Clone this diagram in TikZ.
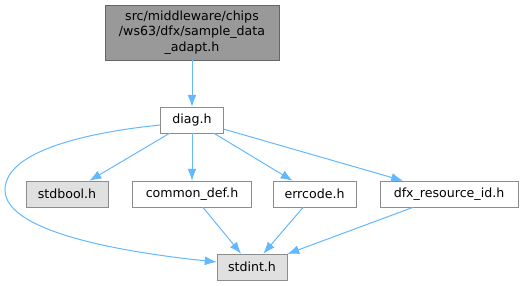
\documentclass[tikz,border=0pt]{standalone}
\usepackage{fontspec}
\setmainfont{DejaVu Sans}
\usetikzlibrary{arrows.meta,positioning}
\definecolor{edgeblue}{HTML}{63B8FF}
\tikzset{
  box/.style={draw=black!45, fill=white, align=center, inner sep=0pt, minimum height=26pt, font=\fontsize{12.6}{15.2}\selectfont},
  ghostbox/.style={box, fill=black!12},
  rootbox/.style={box, draw=black!60, fill=black!40},
  inclarrow/.style={-{Latex[length=12pt,width=9pt]}, line width=1pt, draw=edgeblue}
}

\begin{document}
\begin{tikzpicture}[x=1pt, y=-1pt]
\useasboundingbox (0,0) rectangle (525,285);
% ---- files ----
\node[rootbox, minimum width=174pt, minimum height=55pt] (sample) at (192,32.5) {src/middleware/chips\\/ws63/dfx/sample\_data\\\_adapt.h};
\node[box, minimum width=63pt] (diag) at (192,120) {diag.h};
\node[ghostbox, minimum width=82pt] (stdbool) at (67,194) {stdbool.h};
\node[box, minimum width=119pt] (commondef) at (192,194) {common\_def.h};
\node[box, minimum width=83pt] (errcode) at (314.5,194) {errcode.h};
\node[box, minimum width=138pt] (dfxres) at (449,194) {dfx\_resource\_id.h};
\node[ghostbox, minimum width=70pt] (stdint) at (252,267) {stdint.h};
% ---- includes ----
\draw[inclarrow] (sample) -- (diag);
\draw[inclarrow] (diag) -- (stdbool);
\draw[inclarrow] (diag) -- (commondef);
\draw[inclarrow] (diag) -- (errcode);
\draw[inclarrow] (diag) -- (dfxres);
\draw[inclarrow] ([yshift=-5pt]diag.west) .. controls (100,131) and (5,148) .. (5,190)
  .. controls (5,235) and (140,254) .. ([yshift=5pt]stdint.west);
\draw[inclarrow] (commondef) -- (stdint);
\draw[inclarrow] (errcode) -- (stdint);
\draw[inclarrow] (dfxres) -- (stdint);
\end{tikzpicture}
\end{document}
